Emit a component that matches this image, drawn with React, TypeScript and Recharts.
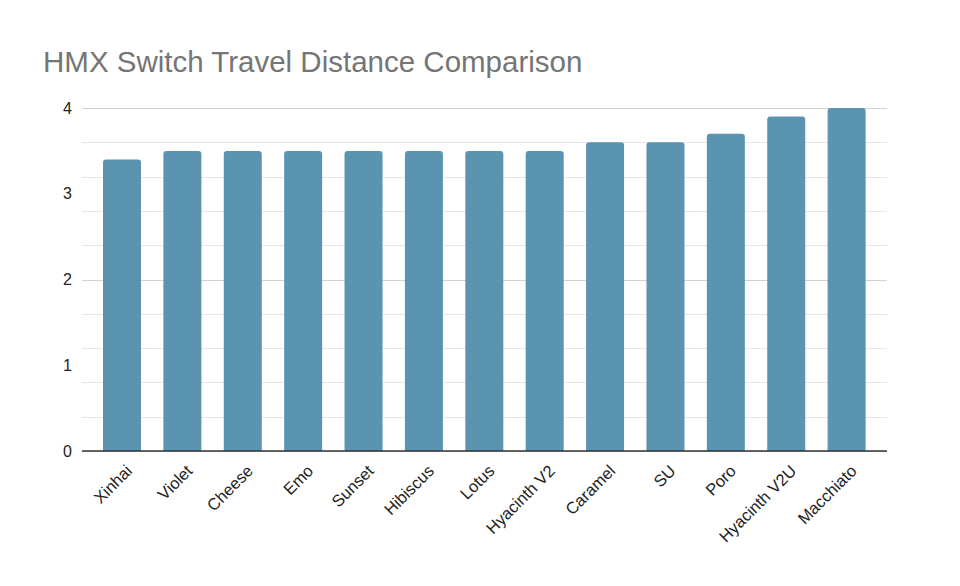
import React from "react";
import { BarChart, Bar, XAxis, YAxis, CartesianGrid } from "recharts";

const switches = [
  "Xinhai",
  "Violet",
  "Cheese",
  "Emo",
  "Sunset",
  "Hibiscus",
  "Lotus",
  "Hyacinth V2",
  "Caramel",
  "SU",
  "Poro",
  "Hyacinth V2U",
  "Macchiato",
];
const travel = [3.4, 3.5, 3.5, 3.5, 3.5, 3.5, 3.5, 3.5, 3.6, 3.6, 3.7, 3.9, 4.0];
const majorTicks = [0, 1, 2, 3, 4];
const minorTicks = [
  0.2, 0.4, 0.6, 0.8, 1.2, 1.4, 1.6, 1.8, 2.2, 2.4, 2.6, 2.8, 3.2, 3.4, 3.6, 3.8,
];

const data = switches.map((name, i) => ({ name, travel: travel[i] }));
const gridValues = [...majorTicks, ...minorTicks].sort((a, b) => a - b);

const FONT = '"Liberation Sans", Arial, sans-serif';

function SwitchTick(props: any) {
  const { x, y, payload } = props;
  return (
    <g transform={`translate(${x},${y})`}>
      <text
        x={11}
        y={13}
        textAnchor="end"
        transform="rotate(-45, 11, 13)"
        fontSize={16.5}
        fontFamily={FONT}
        fill="#222"
      >
        {payload.value}
      </text>
    </g>
  );
}

// crisp 1px grid lines, majors a bit darker
function gridLine(props: any) {
  const y = Math.round(props.y1) + 0.5;
  const value = gridValues[props.index];
  const major = majorTicks.includes(value);
  return (
    <line
      key={`grid-${props.index}`}
      x1={props.x1}
      x2={props.x2}
      y1={y}
      y2={y}
      stroke={major ? "#d2d2d2" : "#e6e6e6"}
      strokeWidth={1}
    />
  );
}

export default function App() {
  return (
    <div
      style={{
        position: "absolute",
        left: 0,
        top: 0,
        width: 960,
        height: 586,
        background: "#fff",
        fontFamily: FONT,
      }}
    >
      <div
        style={{
          position: "absolute",
          left: 43,
          top: 45,
          fontSize: 29.5,
          lineHeight: "normal",
          color: "#757575",
          whiteSpace: "nowrap",
        }}
      >
        HMX Switch Travel Distance Comparison
      </div>
      <BarChart
        width={960}
        height={586}
        data={data}
        margin={{ top: 108, right: 73, left: 42, bottom: 35 }}
        barSize={38}
      >
        <CartesianGrid
          vertical={false}
          horizontalValues={gridValues}
          horizontal={gridLine}
        />
        <XAxis
          dataKey="name"
          interval={0}
          height={100}
          padding={{ left: 10, right: 10 }}
          tickLine={false}
          axisLine={{ stroke: "#333", strokeWidth: 1.5 }}
          tick={<SwitchTick />}
        />
        <YAxis
          domain={[0, 4]}
          ticks={majorTicks}
          width={40}
          axisLine={false}
          tickLine={false}
          tickSize={0}
          tickMargin={10}
          tick={{ fontSize: 16, fill: "#222", fontFamily: FONT }}
        />
        <Bar
          dataKey="travel"
          fill="#5a94b1"
          radius={[3, 3, 0, 0]}
          isAnimationActive={false}
        />
      </BarChart>
    </div>
  );
}
